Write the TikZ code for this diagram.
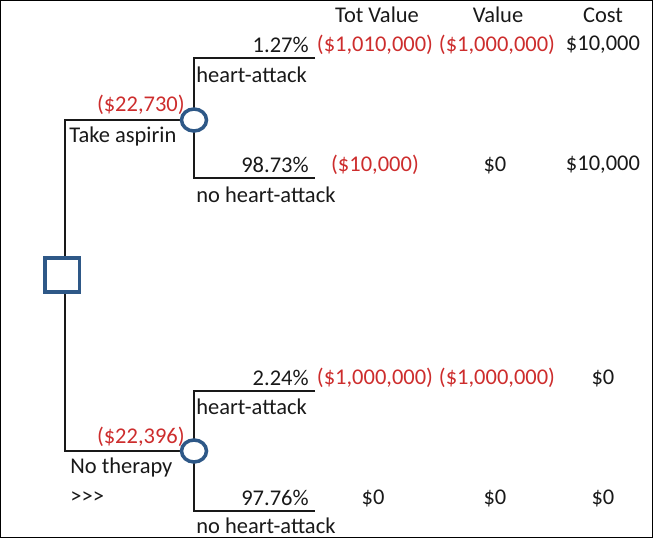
\documentclass[tikz,border=0pt]{standalone}
\usepackage{fontspec}
\setmainfont{Carlito}
\usetikzlibrary{positioning,shapes.geometric}
\definecolor{nodeblue}{RGB}{46,88,135}
\definecolor{valred}{RGB}{205,45,45}
\definecolor{txt}{RGB}{25,25,25}

\begin{document}
\begin{tikzpicture}[x=0.02cm, y=-0.02cm,
    dec/.style={draw=nodeblue, line width=2pt, fill=white, minimum size=0.69cm, inner sep=0pt},
    chance/.style={draw=nodeblue, line width=2pt, fill=white, ellipse, minimum width=0.5cm, minimum height=0.44cm, inner sep=0pt},
    br/.style={draw=txt, line width=0.85pt},
    lbl/.style={font=\fontsize{12.8}{15}\selectfont, text=txt, inner sep=0pt},
    val/.style={lbl, text=valred}
]
% frame
\draw[line width=0.6pt] (0.5,0.5) rectangle (652.5,537.5);
\useasboundingbox (0,0) rectangle (653,538);

% branch ends
\coordinate (e1) at (315,58);
\coordinate (e2) at (315,178);
\coordinate (e3) at (315,391);
\coordinate (e4) at (315,511);
\coordinate (c1) at (194,120);
\coordinate (c2) at (194,451);

% lines
\draw[br] (65,275) |- (c1);
\draw[br] (65,275) |- (c2);
\draw[br] (e1) -| (c1) |- (e2);
\draw[br] (e3) -| (c2) |- (e4);

% nodes
\node[dec] (dec) at (62,275) {};
\node[chance] (ch1) at (c1) {};
\node[chance] (ch2) at (c2) {};

% header
\node[lbl] (htot) at (377,15) {Tot Value};
\node[lbl] (hval) at (498,15) {Value};
\node[lbl] (hcost) at (603,15) {Cost};

% upper branch
\node[val, anchor=east] (ev1) at (185,105) {(\$22,730)};
\node[lbl, anchor=west] (take) at (69,136) {Take aspirin};
\node[lbl, anchor=east] (p1) at (309,45) {1.27\%};
\node[lbl, anchor=west] (o1) at (196,75) {heart-attack};
\node[lbl, anchor=east] (p2) at (309,165) {98.73\%};
\node[lbl, anchor=west] (o2) at (196,195) {no heart-attack};

% lower branch
\node[val, anchor=east] (ev2) at (185,437) {(\$22,396)};
\node[lbl, anchor=west] (none) at (70,468) {No therapy};
\node[lbl, anchor=west] (more) at (70,498) {>{}>{}>};
\node[lbl, anchor=east] (p3) at (309,378) {2.24\%};
\node[lbl, anchor=west] (o3) at (196,407) {heart-attack};
\node[lbl, anchor=east] (p4) at (309,498) {97.76\%};
\node[lbl, anchor=west] (o4) at (196,526) {no heart-attack};

% payoffs
\node[val] (t1) at (375,45) {(\$1,010,000)};
\node[val] (v1) at (497,45) {(\$1,000,000)};
\node[lbl] (k1) at (603,45) {\$10,000};
\node[val] (t2) at (375,165) {(\$10,000)};
\node[lbl] (v2) at (495,165) {\$0};
\node[lbl] (k2) at (603,165) {\$10,000};
\node[val] (t3) at (375,378) {(\$1,000,000)};
\node[val] (v3) at (497,378) {(\$1,000,000)};
\node[lbl] (k3) at (603,378) {\$0};
\node[lbl] (t4) at (373,498) {\$0};
\node[lbl] (v4) at (495,498) {\$0};
\node[lbl] (k4) at (603,498) {\$0};
\end{tikzpicture}
\end{document}
